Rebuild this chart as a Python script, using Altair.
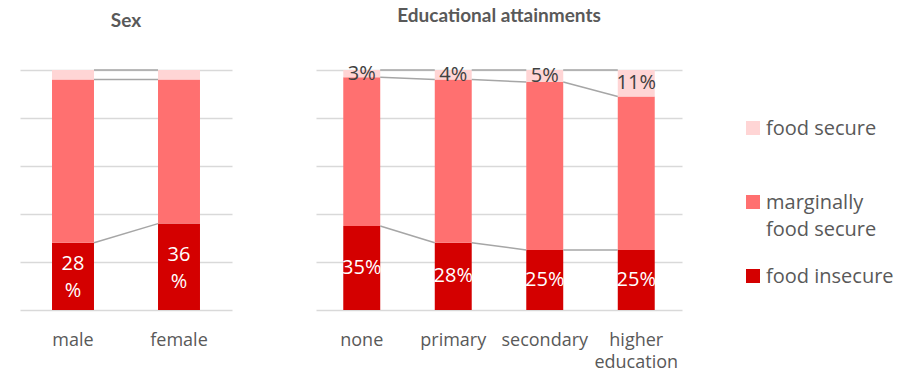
import altair as alt
import pandas as pd

statuses = ["food insecure", "marginally food secure", "food secure"]
status_colors = ["#D40000", "#FF7070", "#FFD5D5"]
legend_order = ["food secure", "marginally food secure", "food insecure"]
legend_labels = ["food secure", "marginally\nfood secure", "food insecure"]

sex_cats = ["male", "female"]
sex_insecure = [28, 36]
sex_marginal = [68, 60]
sex_secure = [4, 4]

edu_cats = ["none", "primary", "secondary", "higher education"]
edu_insecure = [35, 28, 25, 25]
edu_marginal = [62, 68, 70, 64]
edu_secure = [3, 4, 5, 11]

FONT = "Open Sans"
TFONT = "Lato"
TXT = "#595959"


def long_df(cats, ins, mar, sec):
    rows = []
    for i, c in enumerate(cats):
        for j, (s, v) in enumerate(zip(statuses, [ins[i], mar[i], sec[i]])):
            rows.append({"cat": c, "idx": i, "status": s, "order": j, "value": v})
    return pd.DataFrame(rows)


color_scale = alt.Scale(domain=statuses, range=status_colors)


def panel(df, cats, title, width, pin, pout, two_line):
    xscale = alt.Scale(domain=cats, paddingInner=pin, paddingOuter=pout)
    yscale = alt.Scale(domain=[0, 100], nice=False)
    xaxis = alt.Axis(title=None, labelAngle=0, ticks=False, domain=False,
                     labelFont=FONT, labelFontSize=18, labelColor=TXT,
                     labelPadding=21, labelLineHeight=22,
                     labelExpr="split(datum.label, ' ')")
    yaxis = alt.Axis(title=None, values=[0, 20, 40, 60, 80, 100], labels=False,
                     ticks=False, domain=False, grid=True, gridColor="#D9D9D9",
                     gridWidth=1.3)
    base = alt.Chart(df).transform_stack(
        stack="value", groupby=["cat"], as_=["y0", "y1"],
        sort=[alt.SortField("order", order="ascending")],
    )
    bars = base.mark_bar().encode(
        x=alt.X("cat:N", scale=xscale, axis=xaxis),
        y=alt.Y("y0:Q", scale=yscale, axis=yaxis),
        y2="y1:Q",
        color=alt.Color("status:N", scale=color_scale, legend=None),
    )
    lines = base.transform_window(
        next_y="lead(y1)", next_cat="lead(cat)",
        groupby=["status"], sort=[alt.SortField("idx")],
    ).transform_filter("isValid(datum.next_cat)").mark_rule(
        color="#A6A6A6", strokeWidth=1.5
    ).encode(
        x=alt.X("cat:N", scale=xscale, axis=xaxis, bandPosition=1),
        x2=alt.X2("next_cat", bandPosition=0),
        y=alt.Y("y1:Q", scale=yscale, axis=yaxis),
        y2="next_y:Q",
    )
    if two_line:
        lab_expr = "format(datum.value, 'd') + '\\n%'"
        dy = -12
    else:
        lab_expr = "format(datum.value, 'd') + '%'"
        dy = 0
    lab_base = base.transform_calculate(
        mid="(datum.y0 + datum.y1) / 2", lab=lab_expr
    )
    ins_text = lab_base.transform_filter(
        alt.datum.status == "food insecure"
    ).mark_text(font=FONT, fontSize=20, color="white", baseline="middle",
                lineBreak="\n", lineHeight=27, dy=dy).encode(
        x=alt.X("cat:N", scale=xscale, axis=xaxis),
        y=alt.Y("mid:Q", scale=yscale, axis=yaxis),
        text="lab:N",
    )
    layers = [bars, lines, ins_text]
    if not two_line:
        sec_text = lab_base.transform_filter(
            alt.datum.status == "food secure"
        ).mark_text(font=FONT, fontSize=20, color="#404040", baseline="middle").encode(
            x=alt.X("cat:N", scale=xscale, axis=xaxis),
            y=alt.Y("mid:Q", scale=yscale, axis=yaxis),
            text="lab:N",
        )
        layers.append(sec_text)
    return alt.layer(*layers).properties(
        width=width, height=240,
        title=alt.Title(title, font=TFONT, fontSize=19, fontWeight="bold",
                        color=TXT, anchor="middle", baseline="alphabetic",
                        offset=23),
    )


left = panel(long_df(sex_cats, sex_insecure, sex_marginal, sex_secure),
             sex_cats, "Sex", 212, 0.604, 0.302, True)
right = panel(long_df(edu_cats, edu_insecure, edu_marginal, edu_secure),
              edu_cats, "Educational attainments", 366, 0.596, 0.298, False)

leg_df = pd.DataFrame({"status": legend_order, "label": legend_labels})
leg_y = alt.Y("status:N", scale=alt.Scale(type="point", domain=legend_order,
                                          range=[58, 206], padding=0), axis=None)
leg_sq = alt.Chart(leg_df).mark_square(size=196, opacity=1).encode(
    x=alt.value(-13), y=leg_y,
    color=alt.Color("status:N", scale=color_scale, legend=None),
)
leg_tx = alt.Chart(leg_df).mark_text(
    font=FONT, fontSize=20, color=TXT, align="left", baseline="alphabetic",
    dy=7, lineBreak="\n", lineHeight=27,
).encode(x=alt.value(0), y=leg_y, text="label:N")
legend = alt.layer(leg_sq, leg_tx).properties(width=140, height=240)

chart = alt.hconcat(
    left, right, legend, spacing=84, bounds="flush",
).properties(
    padding={"left": 20, "top": 6, "right": 5, "bottom": 5},
).configure_view(stroke=None)

chart.save("out.html", embed_options={"renderer": "svg", "actions": False})
